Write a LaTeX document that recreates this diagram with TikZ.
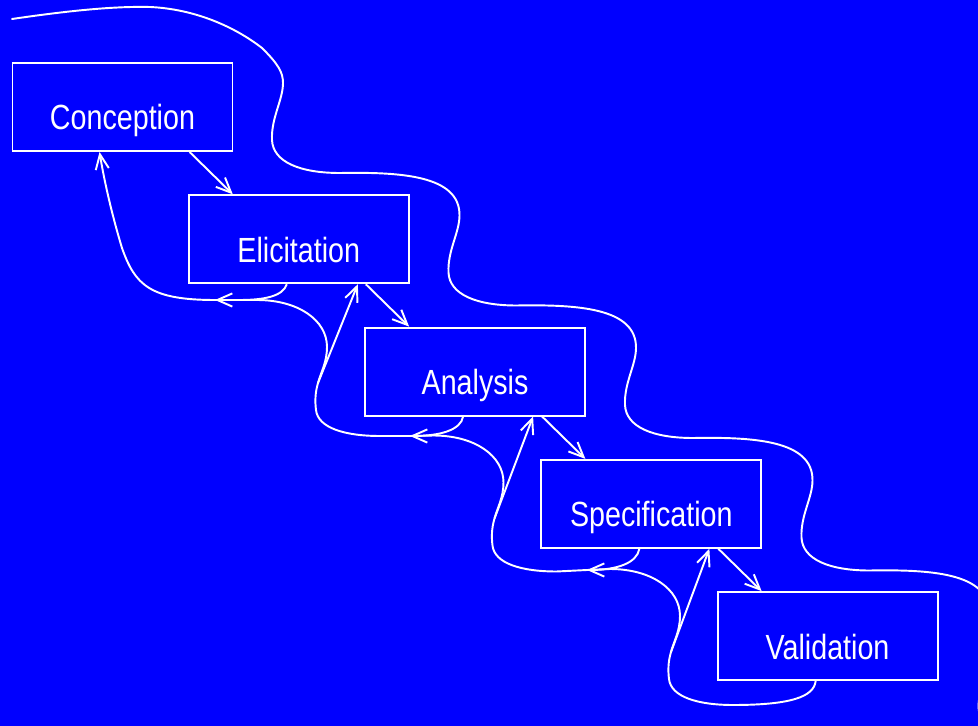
\documentclass[tikz,border=0pt]{standalone}
\usepackage{fontspec}
\newfontfamily\stagefont[FakeStretch=0.82]{Liberation Sans}
\usetikzlibrary{positioning,arrows.meta}
\definecolor{bg}{RGB}{0,0,255}

\begin{document}
\begin{tikzpicture}[x=0.02cm, y=-0.02cm,
    stage/.style={draw=white, line width=1.1pt, minimum width=4.4cm,
      minimum height=1.76cm, inner sep=0pt},
    lbl/.style={text=white, anchor=base, inner sep=0pt,
      font=\stagefont\fontsize{19.9}{24}\selectfont},
    flow/.style={draw=white, line width=1.1pt,
      -{Straight Barb[length=8.5pt,width=7.5pt]}},
    line/.style={draw=white, line width=1.1pt},
    wave/.style={draw=white, line width=1.1pt, line cap=round},
    node distance=2.646cm and 3.526cm]
   \path[use as bounding box, fill=bg] (0,0) rectangle (978,726);
   \clip (0,0) rectangle (978,726);

   \node[stage] (conc) at (122.5,107) {};
   \node[stage, on grid, below right=of conc] (elic) {};
   \node[stage, on grid, below right=of elic] (anal) {};
   \node[stage, on grid, below right=of anal] (spec) {};
   \node[stage, on grid, below right=of spec] (vali) {};

   \node[lbl] (concL) at ([shift={(0,23)}]conc.center) {Conception};
   \node[lbl] (elicL) at ([shift={(0,23)}]elic.center) {Elicitation};
   \node[lbl] (analL) at ([shift={(0,23)}]anal.center) {Analysis};
   \node[lbl] (specL) at ([shift={(0,23)}]spec.center) {Specification};
   \node[lbl] (valiL) at ([shift={(0,23)}]vali.center) {Validation};

   % forward steps
   \draw[flow] ([shift={(178,0)}]conc.south west) -- ([shift={(45,0)}]elic.north west);
   \draw[flow] ([shift={(178,0)}]elic.south west) -- ([shift={(45,0)}]anal.north west);
   \draw[flow] ([shift={(178,0)}]anal.south west) -- ([shift={(45,0)}]spec.north west);
   \draw[flow] ([shift={(178,0)}]spec.south west) -- ([shift={(45,0)}]vali.north west);

   \coordinate (m0) at (215,300);
   \coordinate (m1) at (410,436);
   \coordinate (m2) at (587,570);
   \coordinate (j0) at (318,383);
   \coordinate (j1) at (494.5,518.5);
   \coordinate (j2) at (671,652);

   % feedback
   \draw[flow] ([shift={(99,0)}]elic.south west)
     .. controls (283,296) and (265,300) .. (240,300) -- (m0);
   \draw[flow] ([shift={(99,0)}]anal.south west)
     .. controls (461,430) and (440,436) .. (m1);
   \draw[flow] ([shift={(99,0)}]spec.south west)
     .. controls (637,563) and (617,570) .. (m2);
   \draw[flow] (m0) .. controls (150,300) and (135,285) .. (122,248)
     .. controls (112,215) and (104,180) .. ([shift={(88,0)}]conc.south west);

   \draw[line] (m0) -- (257,300) .. controls (298,300) and (327,320) .. (327,347)
     .. controls (327,362) and (321,372) .. (j0)
     .. controls (315,393) and (315,402) .. (316,410)
     .. controls (318,428) and (345,436) .. (380,436) -- (m1);
   \draw[line] (m1) -- (433.5,435.5) .. controls (474.5,435.5) and (503.5,455.5) .. (503.5,482.5)
     .. controls (503.5,497.5) and (497.5,507.5) .. (j1)
     .. controls (491.5,528.5) and (491.5,537.5) .. (492.5,545.5)
     .. controls (494.5,563.5) and (521.5,571.5) .. (556.5,571.5) -- (m2);
   \draw[line] (m2) -- (610,569) .. controls (651,569) and (680,589) .. (680,616)
     .. controls (680,631) and (674,641) .. (j2)
     .. controls (668,662) and (668,671) .. (669,679)
     .. controls (671,697) and (698,705) .. (733,705)
     .. controls (790,705) and (814,697) .. ([shift={(99,0)}]vali.south west);

   \draw[flow] (j0) -- ([shift={(170,0)}]elic.south west);
   \draw[flow] (j1) -- ([shift={(169,0)}]anal.south west);
   \draw[flow] (j2) -- ([shift={(169,0)}]spec.south west);

   % boundary line
   \draw[wave] (12,19) .. controls (60,12) and (110,6) .. (150,7)
     .. controls (195,9) and (235,27) .. (262,48)
     .. controls (278,64) and (283,72) .. (283,83)
     .. controls (283,100) and (271,118) .. (272,140)
     .. controls (273,162) and (300,173) .. (340,173)
     .. controls (400,172) and (460,175) .. (459.5,215.5)
     .. controls (459.5,232.5) and (447.5,250.5) .. (448.5,272.5)
     .. controls (449.5,294.5) and (476.5,305.5) .. (516.5,305.5)
     .. controls (576.5,304.5) and (636.5,307.5) .. (636,348)
     .. controls (636,365) and (624,383) .. (625,405)
     .. controls (626,427) and (653,438) .. (693,438)
     .. controls (753,437) and (813,440) .. (812.5,480.5)
     .. controls (812.5,497.5) and (800.5,515.5) .. (801.5,537.5)
     .. controls (802.5,559.5) and (829.5,570.5) .. (869.5,570.5)
     .. controls (929.5,569.5) and (989.5,572.5) .. (989,613)
     .. controls (989,670) and (978.5,690) .. (978.5,707)
     .. controls (978.5,720) and (990,726) .. (1000,730);
\end{tikzpicture}
\end{document}
